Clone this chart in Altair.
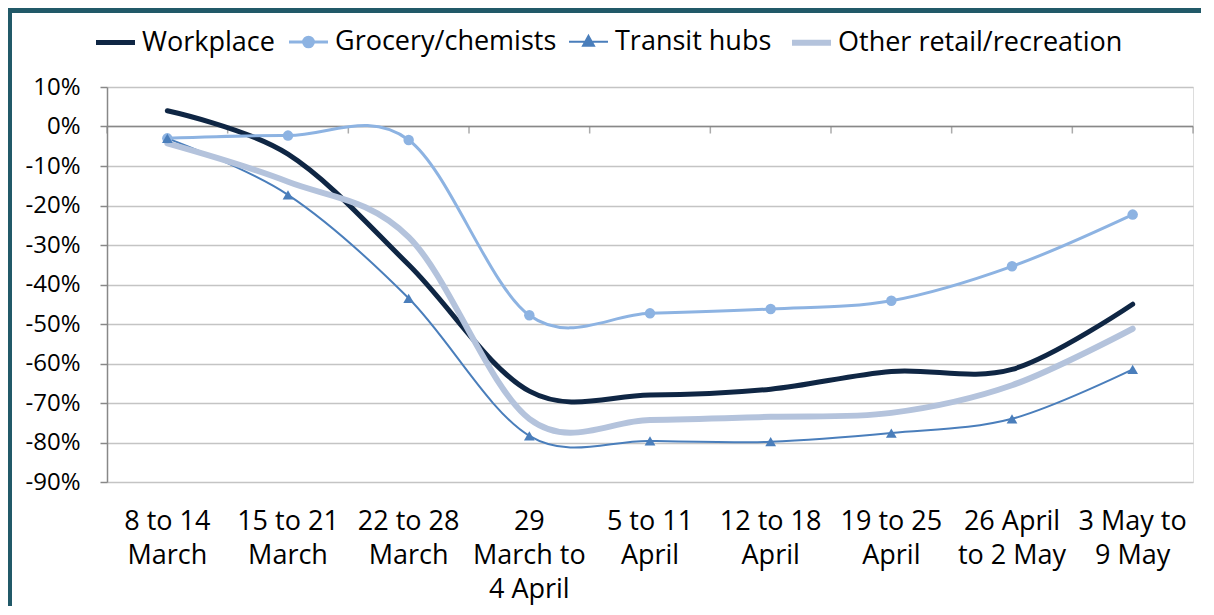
import altair as alt
import pandas as pd

# ---- data ----
category_lines = [
    ["8 to 14", "March"],
    ["15 to 21", "March"],
    ["22 to 28", "March"],
    ["29", "March to", "4 April"],
    ["5 to 11", "April"],
    ["12 to 18", "April"],
    ["19 to 25", "April"],
    ["26 April", "to 2 May"],
    ["3 May to", "9 May"],
]
series_names = ["Workplace", "Grocery/chemists", "Transit hubs", "Other retail/recreation"]
workplace = [4, -7, -35, -67, -68, -66.5, -62, -61.5, -45]
grocery = [-3, -2.3, -3.4, -47.8, -47.3, -46.2, -44.1, -35.4, -22.3]
transit = [-3, -17.3, -43.5, -78.3, -79.6, -79.8, -77.6, -74, -61.5]
other_retail = [-4.3, -14, -28, -74, -74.3, -73.5, -72.5, -65.5, -51.2]
y_ticks = [-90, -80, -70, -60, -50, -40, -30, -20, -10, 0, 10]

# ---- styles ----
colors = ["#0F2644", "#8DB3E2", "#4A7EBB", "#B4C3DC"]
widths = [5, 3, 2, 6]
legend_paths = [
    "M-1,0L1,0",
    "M-1,0L1,0M0.25,0A0.25,0.25,0,1,1,-0.25,0A0.25,0.25,0,1,1,0.25,0Z",
    "M-1,0L1,0M0,-0.3L0.28,0.2L-0.28,0.2Z",
    "M-1,0L1,0",
]
FONT = "Open Sans"
AXIS_GREY = "#888888"

categories = ["|".join(c) for c in category_lines]
rows = []
for s, vals in zip(series_names, [workplace, grocery, transit, other_retail]):
    for c, v in zip(categories, vals):
        rows.append({"cat": c, "series": s, "value": v})
df = pd.DataFrame(rows)
cat_df = pd.DataFrame({"cat": categories, "v": [0] * len(categories)})
end_df = pd.DataFrame({"cat": [categories[-1]], "v": [0]})
one = pd.DataFrame({"v": [0]})

xscale = alt.Scale(type="band", domain=categories, paddingInner=0, paddingOuter=0)
yscale = alt.Scale(domain=[-90, 10], nice=False, zero=False)

x_axis = alt.Axis(
    labelExpr="split(datum.label, '|')", labelAngle=0, domain=False, ticks=False,
    grid=False, labelFontSize=27, labelFont=FONT, labelLineHeight=34,
    labelPadding=26, labelColor="#000000", title=None, labelLimit=300,
    labelOverlap=False,
)
y_axis = alt.Axis(
    values=y_ticks, labelExpr="datum.value + '%'", grid=True, gridColor="#C4C4C4",
    gridWidth=1.5, domain=True, domainColor=AXIS_GREY, domainWidth=1.5, ticks=True,
    tickColor=AXIS_GREY, tickSize=7, tickWidth=1.5, labelFontSize=24, labelFont=FONT,
    labelPadding=20, labelColor="#000000", title=None, labelOverlap=False,
    labelSeparation=0, tickCount=11,
)

X = alt.X("cat:N", sort=categories, scale=xscale, axis=x_axis, bandPosition=0.5)
Y = alt.Y("value:Q", scale=yscale, axis=y_axis)
Y0 = alt.Y("v:Q", scale=yscale, axis=y_axis)

legend = alt.Legend(
    orient="none", legendX=-14, legendY=-67, direction="horizontal", columns=4,
    title=None, labelFontSize=27, labelFont=FONT, labelColor="#000000",
    symbolSize=1520, labelOffset=4, columnPadding=8, padding=0, labelLimit=400,
)
color = alt.Color("series:N", scale=alt.Scale(domain=series_names, range=colors), legend=legend)
swidth = alt.StrokeWidth(
    "series:N", scale=alt.Scale(type="ordinal", domain=series_names, range=widths), legend=legend
)
shape = alt.Shape("series:N", scale=alt.Scale(domain=series_names, range=legend_paths), legend=legend)

border_top = alt.Chart(one).mark_rect(color="#215968").encode(
    x=alt.value(-99), x2=alt.value(1100), y=alt.value(-79), y2=alt.value(-74)
)
border_left = alt.Chart(one).mark_rect(color="#215968").encode(
    x=alt.value(-99), x2=alt.value(-95), y=alt.value(-79), y2=alt.value(520)
)

zero_line = alt.Chart(one).mark_rule(color=AXIS_GREY, strokeWidth=1.5).encode(y=Y0)
ticks_start = alt.Chart(cat_df).mark_tick(
    orient="vertical", size=7, thickness=1.5, yOffset=3.5, color=AXIS_GREY
).encode(
    x=alt.X("cat:N", sort=categories, scale=xscale, axis=x_axis, bandPosition=0),
    y=Y0,
)
ticks_end = alt.Chart(end_df).mark_tick(
    orient="vertical", size=7, thickness=1.5, yOffset=3.5, color=AXIS_GREY
).encode(
    x=alt.X("cat:N", sort=categories, scale=xscale, axis=x_axis, bandPosition=1),
    y=Y0,
)

lines = alt.Chart(df).mark_line(interpolate="cardinal", strokeCap="round").encode(
    x=X, y=Y, color=color, strokeWidth=swidth
)
legend_layer = alt.Chart(df).transform_filter("false").mark_point(filled=True, opacity=1).encode(
    x=X, y=Y, color=color, shape=shape, strokeWidth=swidth
)
grocery_pts = alt.Chart(df).transform_filter(
    alt.datum.series == series_names[1]
).mark_point(shape="circle", filled=True, size=110, opacity=1).encode(x=X, y=Y, color=color)
transit_pts = alt.Chart(df).transform_filter(
    alt.datum.series == series_names[2]
).mark_point(shape="triangle-up", filled=True, size=115, opacity=1).encode(x=X, y=Y, color=color)

chart = alt.layer(
    border_top, border_left, zero_line, ticks_start, ticks_end,
    lines, legend_layer, grocery_pts, transit_pts,
).properties(
    width=1086, height=395,
    autosize=alt.AutoSizeParams(type="none"),
    padding={"left": 99, "top": 79, "right": 8, "bottom": 124},
    background="white",
).configure_view(stroke=None).configure(font=FONT).configure_axis(
    labelOverlap=False, labelSeparation=0
)

chart.save("out.html", embed_options={"renderer": "svg", "actions": False})
